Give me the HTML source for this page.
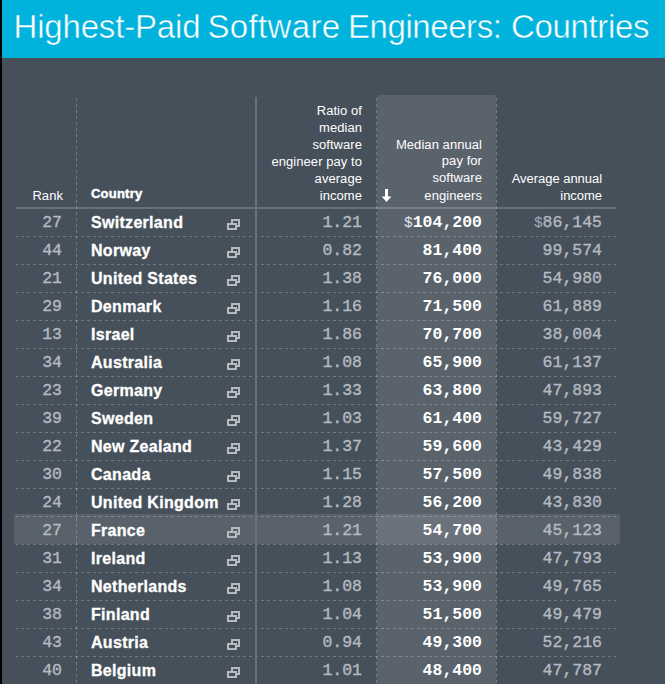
<!DOCTYPE html>
<html lang="en">
<head>
<meta charset="utf-8">
<title>Highest-Paid Software Engineers: Countries</title>
<style>
html,body{margin:0;padding:0;}
body{background:#46505a;width:665px;height:684px;overflow:hidden;font-family:"Liberation Sans",Arial,sans-serif;}
.page{position:relative;width:665px;height:684px;overflow:hidden;background:#46505a;}
.edge{position:absolute;left:0;top:0;width:2px;height:684px;background:#000;z-index:9;}
.bar{position:absolute;left:0;top:0;width:665px;height:58px;background:#00b3dc;}
.bar h1{margin:0;position:absolute;left:0;top:7px;width:665px;height:40px;font-weight:400;font-size:33px;line-height:40px;color:#fff;white-space:nowrap;-webkit-text-stroke:0.5px #00b3dc;}
.bar h1 span{position:absolute;top:0;}
.w1{left:13.5px;letter-spacing:-0.17px;}
.w2{left:207.5px;letter-spacing:0.35px;}
.w3{left:348px;letter-spacing:-0.43px;}
.w4{left:511px;letter-spacing:-0.35px;}
.hlcol{position:absolute;left:376px;top:95px;width:121px;height:600px;}
.hlcol i{position:absolute;left:1px;top:0;width:119px;height:600px;background:#5a626c;border-radius:2px 2px 0 0;}
.hlcol:before,.hlcol:after{content:"";position:absolute;top:2px;width:1px;height:600px;background:repeating-linear-gradient(to bottom,#747c85 0 3px,transparent 3px 6px);background-position:0 1px;}
.hlcol:before{left:0;} .hlcol:after{right:0;}
.vdash{position:absolute;left:76px;top:97px;width:1px;height:600px;background:repeating-linear-gradient(to bottom,#747c85 0 3px,transparent 3px 6px);background-position:0 1px;}
.vsolid{position:absolute;left:255px;top:97px;width:2px;height:600px;background:#69727c;z-index:3;}
.hlrow{position:absolute;left:14px;top:514px;width:606px;height:30px;background:rgba(255,255,255,0.105);border-radius:2px;}
table.t{z-index:1;position:absolute;left:16px;top:97px;width:600px;border-collapse:separate;border-spacing:0;table-layout:fixed;}
th,td{padding:0;margin:0;}
th{height:110px;vertical-align:bottom;border-bottom:2px solid rgba(255,255,255,0.19);font-weight:400;font-size:13px;line-height:16.22px;color:#fff;text-align:right;position:relative;}
th span{display:block;padding-bottom:3px;letter-spacing:0.06px;transform:scaleY(1.04);transform-origin:50% 100%;}
th.c1{width:60px;} th.c2{width:180px;text-align:left;font-weight:700;} th.c3{width:120px;} th.c4{width:120px;} th.c5{width:120px;}
th.c1 span{padding-right:13px;}
th.c2 span{padding-left:15px;padding-bottom:4.5px;letter-spacing:0.22px;-webkit-text-stroke:0.45px #fff;}
th.c3 span,th.c4 span,th.c5 span{padding-right:14px;}
th.c4 .arr{position:absolute;left:5px;top:92px;}
td{height:28px;vertical-align:top;background-image:linear-gradient(to right,rgba(255,255,255,0.24) 0 3px,transparent 3px 6px);background-size:6px 1px;background-repeat:repeat-x;background-position:-1px 27px;}
td.c5{background-position:-2px 27px;}
td>div{height:27px;overflow:hidden;line-height:27px;font-family:"Liberation Mono","DejaVu Sans Mono",monospace;font-size:16.5px;color:#b4bac1;-webkit-text-stroke:0.35px #b4bac1;text-align:right;white-space:nowrap;position:relative;box-sizing:border-box;}
td.c1>div{padding-right:14px;}
td.c2>div{text-align:left;padding-left:15px;font-family:"Liberation Sans",Arial,sans-serif;color:#fff;-webkit-text-stroke:0;}
td.c2 b{font-size:16px;font-weight:700;letter-spacing:0.3px;-webkit-text-stroke:0.3px #fff;}
td.c3>div,td.c4>div,td.c5>div{padding-right:14px;}
td.c4>div{color:#fff;font-weight:700;-webkit-text-stroke:0;}
td i{font-style:normal;font-weight:400;font-size:14.5px;-webkit-text-stroke:0;color:#a3abb3;}
td.c4 i{color:#e4e6e8;}
.ico{position:absolute;left:151px;top:10px;}
tr.hov .ico rect+rect{fill:#5a626b;}
th.c5 span{letter-spacing:-0.04px;}

</style>
</head>
<body>
<div class="page">
<div class="edge"></div>
<header class="bar"><h1><span class="w1">Highest-Paid</span> <span class="w2">Software</span> <span class="w3">Engineers:</span> <span class="w4">Countries</span></h1></header>
<div class="hlcol"><i></i></div>
<div class="vdash"></div>
<div class="vsolid"></div>
<div class="hlrow"></div>
<table class="t">
<thead><tr>
<th class="c1"><span>Rank</span></th>
<th class="c2"><span>Country</span></th>
<th class="c3"><span>Ratio of<br>median<br>software<br>engineer pay to<br>average<br>income</span></th>
<th class="c4"><svg class="arr" width="11" height="13" viewBox="0 0 11 13"><path d="M4 0h3v7.6h3.4L5.5 13 0.7 7.6H4z" fill="#fff"/></svg><span>Median annual<br>pay for<br>software<br>engineers</span></th>
<th class="c5"><span>Average annual<br>income</span></th>
</tr></thead>
<tbody>
<tr><td class="c1"><div>27</div></td><td class="c2"><div><b>Switzerland</b><svg class="ico" width="14" height="12" viewBox="0 0 14 12"><rect x="5" y="1" width="7" height="6" fill="none" stroke="#b7bbbf" stroke-width="2"/><rect x="1" y="5" width="8" height="5" fill="#46505a" stroke="#b7bbbf" stroke-width="2"/></svg></div></td><td class="c3"><div>1.21</div></td><td class="c4"><div><i>$</i>104,200</div></td><td class="c5"><div><i>$</i>86,145</div></td></tr>
<tr><td class="c1"><div>44</div></td><td class="c2"><div><b>Norway</b><svg class="ico" width="14" height="12" viewBox="0 0 14 12"><rect x="5" y="1" width="7" height="6" fill="none" stroke="#b7bbbf" stroke-width="2"/><rect x="1" y="5" width="8" height="5" fill="#46505a" stroke="#b7bbbf" stroke-width="2"/></svg></div></td><td class="c3"><div>0.82</div></td><td class="c4"><div>81,400</div></td><td class="c5"><div>99,574</div></td></tr>
<tr><td class="c1"><div>21</div></td><td class="c2"><div><b>United States</b><svg class="ico" width="14" height="12" viewBox="0 0 14 12"><rect x="5" y="1" width="7" height="6" fill="none" stroke="#b7bbbf" stroke-width="2"/><rect x="1" y="5" width="8" height="5" fill="#46505a" stroke="#b7bbbf" stroke-width="2"/></svg></div></td><td class="c3"><div>1.38</div></td><td class="c4"><div>76,000</div></td><td class="c5"><div>54,980</div></td></tr>
<tr><td class="c1"><div>29</div></td><td class="c2"><div><b>Denmark</b><svg class="ico" width="14" height="12" viewBox="0 0 14 12"><rect x="5" y="1" width="7" height="6" fill="none" stroke="#b7bbbf" stroke-width="2"/><rect x="1" y="5" width="8" height="5" fill="#46505a" stroke="#b7bbbf" stroke-width="2"/></svg></div></td><td class="c3"><div>1.16</div></td><td class="c4"><div>71,500</div></td><td class="c5"><div>61,889</div></td></tr>
<tr><td class="c1"><div>13</div></td><td class="c2"><div><b>Israel</b><svg class="ico" width="14" height="12" viewBox="0 0 14 12"><rect x="5" y="1" width="7" height="6" fill="none" stroke="#b7bbbf" stroke-width="2"/><rect x="1" y="5" width="8" height="5" fill="#46505a" stroke="#b7bbbf" stroke-width="2"/></svg></div></td><td class="c3"><div>1.86</div></td><td class="c4"><div>70,700</div></td><td class="c5"><div>38,004</div></td></tr>
<tr><td class="c1"><div>34</div></td><td class="c2"><div><b>Australia</b><svg class="ico" width="14" height="12" viewBox="0 0 14 12"><rect x="5" y="1" width="7" height="6" fill="none" stroke="#b7bbbf" stroke-width="2"/><rect x="1" y="5" width="8" height="5" fill="#46505a" stroke="#b7bbbf" stroke-width="2"/></svg></div></td><td class="c3"><div>1.08</div></td><td class="c4"><div>65,900</div></td><td class="c5"><div>61,137</div></td></tr>
<tr><td class="c1"><div>23</div></td><td class="c2"><div><b>Germany</b><svg class="ico" width="14" height="12" viewBox="0 0 14 12"><rect x="5" y="1" width="7" height="6" fill="none" stroke="#b7bbbf" stroke-width="2"/><rect x="1" y="5" width="8" height="5" fill="#46505a" stroke="#b7bbbf" stroke-width="2"/></svg></div></td><td class="c3"><div>1.33</div></td><td class="c4"><div>63,800</div></td><td class="c5"><div>47,893</div></td></tr>
<tr><td class="c1"><div>39</div></td><td class="c2"><div><b>Sweden</b><svg class="ico" width="14" height="12" viewBox="0 0 14 12"><rect x="5" y="1" width="7" height="6" fill="none" stroke="#b7bbbf" stroke-width="2"/><rect x="1" y="5" width="8" height="5" fill="#46505a" stroke="#b7bbbf" stroke-width="2"/></svg></div></td><td class="c3"><div>1.03</div></td><td class="c4"><div>61,400</div></td><td class="c5"><div>59,727</div></td></tr>
<tr><td class="c1"><div>22</div></td><td class="c2"><div><b>New Zealand</b><svg class="ico" width="14" height="12" viewBox="0 0 14 12"><rect x="5" y="1" width="7" height="6" fill="none" stroke="#b7bbbf" stroke-width="2"/><rect x="1" y="5" width="8" height="5" fill="#46505a" stroke="#b7bbbf" stroke-width="2"/></svg></div></td><td class="c3"><div>1.37</div></td><td class="c4"><div>59,600</div></td><td class="c5"><div>43,429</div></td></tr>
<tr><td class="c1"><div>30</div></td><td class="c2"><div><b>Canada</b><svg class="ico" width="14" height="12" viewBox="0 0 14 12"><rect x="5" y="1" width="7" height="6" fill="none" stroke="#b7bbbf" stroke-width="2"/><rect x="1" y="5" width="8" height="5" fill="#46505a" stroke="#b7bbbf" stroke-width="2"/></svg></div></td><td class="c3"><div>1.15</div></td><td class="c4"><div>57,500</div></td><td class="c5"><div>49,838</div></td></tr>
<tr><td class="c1"><div>24</div></td><td class="c2"><div><b>United Kingdom</b><svg class="ico" width="14" height="12" viewBox="0 0 14 12"><rect x="5" y="1" width="7" height="6" fill="none" stroke="#b7bbbf" stroke-width="2"/><rect x="1" y="5" width="8" height="5" fill="#46505a" stroke="#b7bbbf" stroke-width="2"/></svg></div></td><td class="c3"><div>1.28</div></td><td class="c4"><div>56,200</div></td><td class="c5"><div>43,830</div></td></tr>
<tr class="hov"><td class="c1"><div>27</div></td><td class="c2"><div><b>France</b><svg class="ico" width="14" height="12" viewBox="0 0 14 12"><rect x="5" y="1" width="7" height="6" fill="none" stroke="#b7bbbf" stroke-width="2"/><rect x="1" y="5" width="8" height="5" fill="#46505a" stroke="#b7bbbf" stroke-width="2"/></svg></div></td><td class="c3"><div>1.21</div></td><td class="c4"><div>54,700</div></td><td class="c5"><div>45,123</div></td></tr>
<tr><td class="c1"><div>31</div></td><td class="c2"><div><b>Ireland</b><svg class="ico" width="14" height="12" viewBox="0 0 14 12"><rect x="5" y="1" width="7" height="6" fill="none" stroke="#b7bbbf" stroke-width="2"/><rect x="1" y="5" width="8" height="5" fill="#46505a" stroke="#b7bbbf" stroke-width="2"/></svg></div></td><td class="c3"><div>1.13</div></td><td class="c4"><div>53,900</div></td><td class="c5"><div>47,793</div></td></tr>
<tr><td class="c1"><div>34</div></td><td class="c2"><div><b>Netherlands</b><svg class="ico" width="14" height="12" viewBox="0 0 14 12"><rect x="5" y="1" width="7" height="6" fill="none" stroke="#b7bbbf" stroke-width="2"/><rect x="1" y="5" width="8" height="5" fill="#46505a" stroke="#b7bbbf" stroke-width="2"/></svg></div></td><td class="c3"><div>1.08</div></td><td class="c4"><div>53,900</div></td><td class="c5"><div>49,765</div></td></tr>
<tr><td class="c1"><div>38</div></td><td class="c2"><div><b>Finland</b><svg class="ico" width="14" height="12" viewBox="0 0 14 12"><rect x="5" y="1" width="7" height="6" fill="none" stroke="#b7bbbf" stroke-width="2"/><rect x="1" y="5" width="8" height="5" fill="#46505a" stroke="#b7bbbf" stroke-width="2"/></svg></div></td><td class="c3"><div>1.04</div></td><td class="c4"><div>51,500</div></td><td class="c5"><div>49,479</div></td></tr>
<tr><td class="c1"><div>43</div></td><td class="c2"><div><b>Austria</b><svg class="ico" width="14" height="12" viewBox="0 0 14 12"><rect x="5" y="1" width="7" height="6" fill="none" stroke="#b7bbbf" stroke-width="2"/><rect x="1" y="5" width="8" height="5" fill="#46505a" stroke="#b7bbbf" stroke-width="2"/></svg></div></td><td class="c3"><div>0.94</div></td><td class="c4"><div>49,300</div></td><td class="c5"><div>52,216</div></td></tr>
<tr><td class="c1"><div>40</div></td><td class="c2"><div><b>Belgium</b><svg class="ico" width="14" height="12" viewBox="0 0 14 12"><rect x="5" y="1" width="7" height="6" fill="none" stroke="#b7bbbf" stroke-width="2"/><rect x="1" y="5" width="8" height="5" fill="#46505a" stroke="#b7bbbf" stroke-width="2"/></svg></div></td><td class="c3"><div>1.01</div></td><td class="c4"><div>48,400</div></td><td class="c5"><div>47,787</div></td></tr>
</tbody></table>
</div>
</body></html>
